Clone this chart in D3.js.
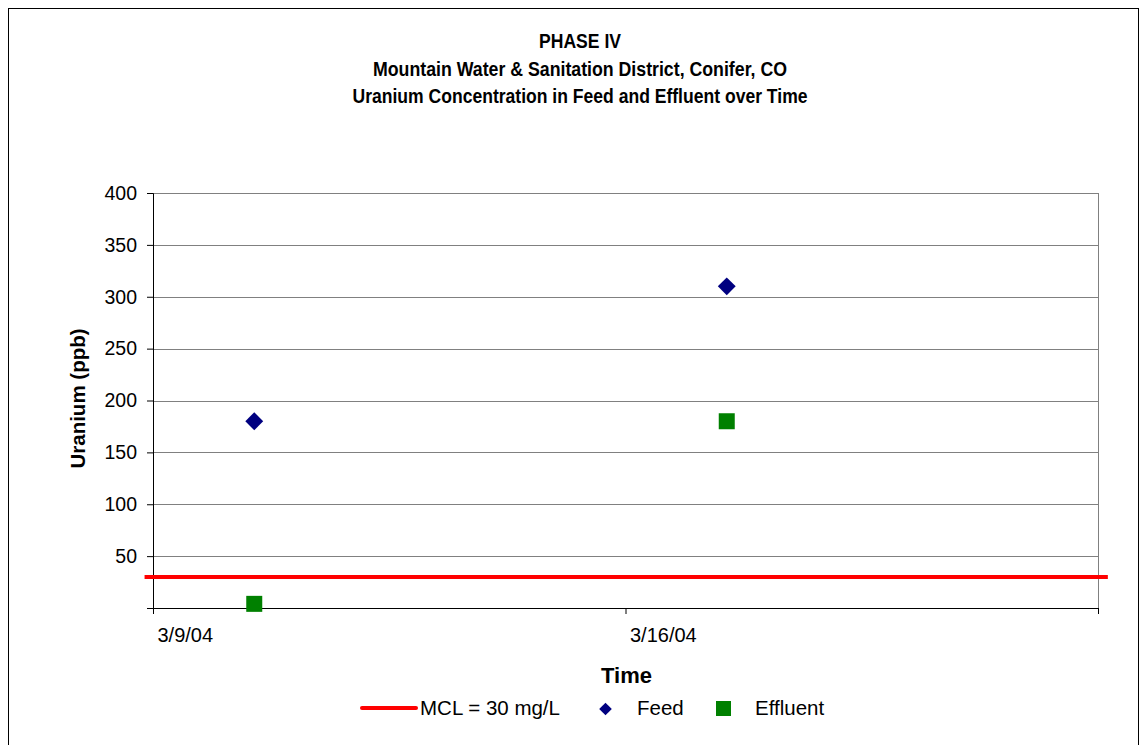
<!DOCTYPE html>
<html>
<head>
<meta charset="utf-8">
<script src="https://cdn.jsdelivr.net/npm/d3@7"></script>
<style>
  body { margin: 0; background: #fff; }
  text { font-family: "Liberation Sans", Arial, sans-serif; fill: #000; }
  .title { font-weight: bold; font-size: 20px; }
  .y.axis .tick text { font-size: 19.5px; }
  .x.axis .tick text { font-size: 20px; }
  .grid line { stroke: #808080; }
</style>
</head>
<body>
<svg id="chart" width="1145" height="745"></svg>
<script>
var titleLines = ["PHASE IV", "Mountain Water & Sanitation District, Conifer, CO",
                  "Uranium Concentration in Feed and Effluent over Time"];
var sampleDates = ["2004-03-10T12:00", "2004-03-17T12:00"];
var feedValues = [180, 310];
var effluentValues = [4, 180];
var mclValue = 30;
var mclDates = ["2004-03-08T21:00", "2004-03-23T03:30"];
var xDomain = ["2004-03-09", "2004-03-23"];
var xTicks = ["2004-03-09", "2004-03-16", "2004-03-23"];
var xTickLabels = ["3/9/04", "3/16/04", ""];
var yTicks = [0, 50, 100, 150, 200, 250, 300, 350, 400];
var legendNames = ["MCL = 30 mg/L", "Feed", "Effluent"];

var parse = d3.timeParse("%Y-%m-%dT%H:%M");
var parseDay = d3.timeParse("%Y-%m-%d");

var margin = {top: 193, right: 47, bottom: 137, left: 153};
var width = 1145 - margin.left - margin.right;
var height = 745 - margin.top - margin.bottom;

var svg = d3.select("#chart");

// outer chart border
svg.append("rect")
    .attr("x", 8.5).attr("y", 8.5)
    .attr("width", 1130).attr("height", 740)
    .attr("fill", "none")
    .attr("stroke", "#000");

// narrow bold title (squeezed to look like Arial Narrow)
var titleWidths = [82, 414, 455];
svg.selectAll("text.title")
    .data(titleLines)
    .enter().append("text")
      .attr("class", "title")
      .attr("x", 580)
      .attr("y", function(d, i) { return 48 + i * 27.5; })
      .attr("textLength", function(d, i) { return titleWidths[i]; })
      .attr("lengthAdjust", "spacingAndGlyphs")
      .style("text-anchor", "middle")
      .text(function(d) { return d; });

var xScale = d3.scaleTime()
    .domain(xDomain.map(parseDay))
    .range([0, width]);
var yScale = d3.scaleLinear()
    .domain([0, 400])
    .range([height, 0]);

var chart = svg.append("g")
    .attr("transform", `translate(${margin.left}, ${margin.top})`);

// gridlines
chart.append("g")
    .attr("class", "grid")
    .selectAll("line")
    .data(yTicks.slice(1))
    .enter().append("line")
      .attr("x1", 0).attr("x2", width)
      .attr("y1", function(d) { return Math.round(yScale(d)) + 0.5; })
      .attr("y2", function(d) { return Math.round(yScale(d)) + 0.5; });
chart.append("line")
    .attr("x1", width + 0.5).attr("x2", width + 0.5)
    .attr("y1", 0).attr("y2", height)
    .attr("stroke", "#808080");

// y axis
var yAxis = d3.axisLeft(yScale)
    .tickValues(yTicks)
    .tickSize(6)
    .tickPadding(10)
    .tickFormat(function(d) { return d === 0 ? "" : d; });
chart.append("g")
    .attr("class", "y axis")
    .call(yAxis)
    .call(function(g) { g.select(".domain").attr("stroke", "#000"); });

// x axis
var xAxis = d3.axisBottom(xScale)
    .tickValues(xTicks.map(parseDay))
    .tickSize(6)
    .tickSizeOuter(0)
    .tickFormat(function(d, i) { return xTickLabels[i]; });
var xg = chart.append("g")
    .attr("class", "x axis")
    .attr("transform", `translate(0, ${height})`)
    .call(xAxis);
xg.selectAll(".tick text")
    .style("text-anchor", "start")
    .attr("x", 4)
    .attr("y", 20);

chart.append("text")
    .attr("x", width / 2 + 1)
    .attr("y", height + 75)
    .style("text-anchor", "middle")
    .style("font-weight", "bold")
    .style("font-size", "22px")
    .text("Time");

chart.append("text")
    .attr("transform", "rotate(-90)")
    .attr("x", -height / 2 + 2)
    .attr("y", -68)
    .style("text-anchor", "middle")
    .style("font-weight", "bold")
    .style("font-size", "20.5px")
    .text("Uranium (ppb)");

// MCL line
var line = d3.line()
    .x(function(d) { return xScale(d); })
    .y(function() { return yScale(mclValue); });
chart.append("path")
    .datum(mclDates.map(parse))
    .attr("d", line)
    .attr("stroke", "#ff0000")
    .attr("stroke-width", 4)
    .attr("fill", "none");

// Feed diamonds
var diamond = d3.symbol().type(d3.symbolSquare).size(160);
chart.selectAll("path.feed")
    .data(feedValues)
    .enter().append("path")
      .attr("class", "feed")
      .attr("d", diamond)
      .attr("fill", "#000080")
      .attr("transform", function(d, i) {
        return `translate(${xScale(parse(sampleDates[i]))}, ${yScale(d)}) rotate(45)`;
      });

// Effluent squares
chart.selectAll("rect.effluent")
    .data(effluentValues)
    .enter().append("rect")
      .attr("class", "effluent")
      .attr("x", function(d, i) { return xScale(parse(sampleDates[i])) - 8; })
      .attr("y", function(d) { return yScale(d) - 8; })
      .attr("width", 16).attr("height", 16)
      .attr("fill", "#008000");

// legend
var legend = svg.append("g").attr("transform", "translate(0, 708)");
legend.append("line")
    .attr("x1", 362).attr("x2", 416)
    .attr("y1", 0).attr("y2", 0)
    .attr("stroke", "#ff0000")
    .attr("stroke-width", 4)
    .attr("stroke-linecap", "round");
legend.append("path")
    .attr("d", d3.symbol().type(d3.symbolSquare).size(80))
    .attr("transform", "translate(605.5, 1) rotate(45)")
    .attr("fill", "#000080");
legend.append("rect")
    .attr("x", 716).attr("y", -7)
    .attr("width", 15).attr("height", 15)
    .attr("fill", "#008000");
var legendX = [420, 637, 755];
legend.selectAll("text")
    .data(legendNames)
    .enter().append("text")
      .attr("x", function(d, i) { return legendX[i]; })
      .attr("y", 7)
      .style("font-size", "20.5px")
      .text(function(d) { return d; });
</script>
</body>
</html>
